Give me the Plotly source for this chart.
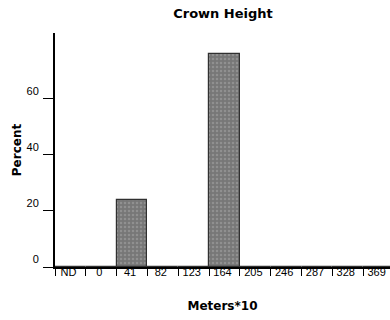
import plotly.graph_objects as go

categories = ["ND", "0", "41", "82", "123", "164", "205", "246", "287", "328", "369"]
percent = [0, 0, 24, 0, 0, 76, 0, 0, 0, 0, 0]
y_ticks = [0, 20, 40, 60]

fig = go.Figure()
fig.add_trace(go.Bar(
    x=categories, y=percent,
    marker=dict(color="#858585", line=dict(color="#303030", width=1.2),
                pattern=dict(shape=".", fgcolor="#a8a8a8", bgcolor="#777777", size=4, solidity=0.3)),
))

title_font = dict(family="DejaVu Sans, Arial, sans-serif", size=12, color="black")

fig.update_layout(
    width=390, height=320,
    margin=dict(l=55, r=0, t=33, b=53),
    paper_bgcolor="white", plot_bgcolor="white",
    bargap=0,
    showlegend=False,
    font=dict(family="Liberation Sans, Arial, sans-serif", size=11, color="black"),
    title=dict(text="<b>Crown Height</b>", x=223 / 390, xref="container",
               xanchor="center", y=1 - 13.5 / 320, yanchor="middle",
               font=dict(family="DejaVu Sans, Arial, sans-serif", size=13, color="black")),
)
fig.update_xaxes(
    type="category", range=[-0.5, 10.37], automargin=False,
    showline=True, linecolor="black", linewidth=2,
    ticks="outside", tickson="boundaries", ticklen=7, tickcolor="black", tickwidth=1,
    showgrid=False, zeroline=False,
    tickfont=dict(size=11), ticklabelstandoff=-6, ticklabelshift=-2,
    title=dict(text="<b>Meters*10</b>", font=title_font, standoff=24),
)
fig.update_yaxes(
    range=[0, 83.5], tickvals=y_ticks, automargin=False,
    showline=True, linecolor="black", linewidth=2,
    ticks="outside", ticklen=10, tickcolor="black", tickwidth=1,
    showgrid=False, zeroline=False,
    tickfont=dict(size=11), ticklabelshift=-8, ticklabelstandoff=2,
    title=dict(text="<b>Percent</b>", font=title_font, standoff=2),
)

fig.write_html("out.html", config={"displayModeBar": False},
               post_script="document.body.style.margin='0';")
